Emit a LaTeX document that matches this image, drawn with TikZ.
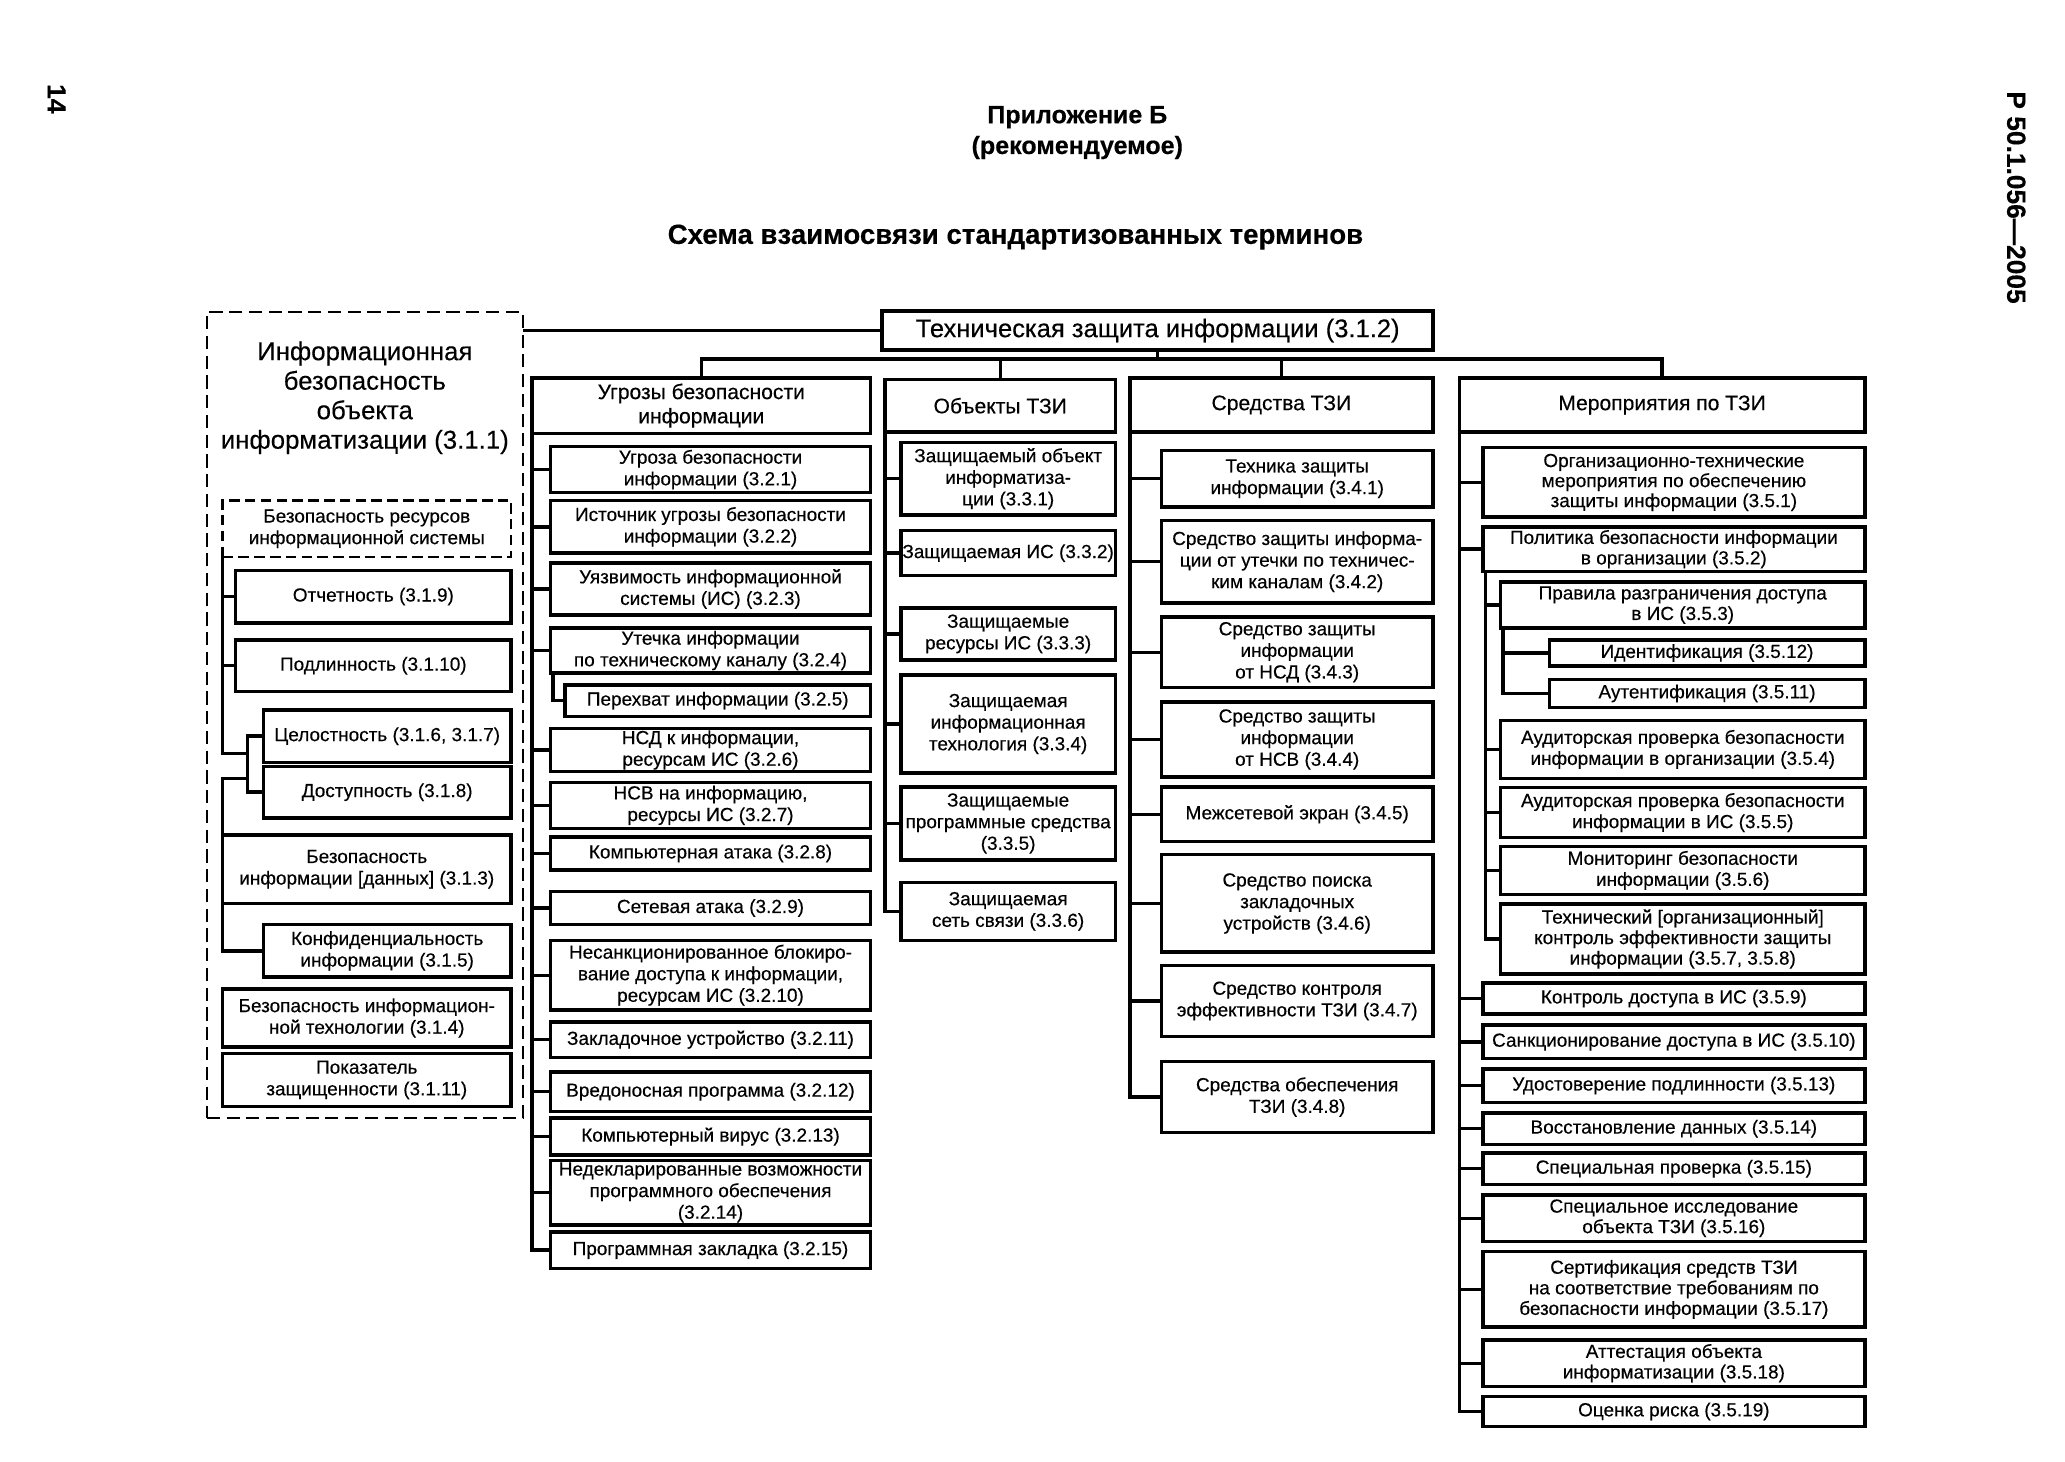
\documentclass[tikz,border=0pt]{standalone}
\usepackage{fontspec}
\setmainfont{Liberation Sans}[FakeBold=0.35]
\begin{document}
\begin{tikzpicture}[x=0.5pt,y=-0.5pt,
  bx/.style={draw,line width=1.3pt,inner xsep=0.5pt,inner ysep=0pt,outer sep=0pt,align=center,
    font=\fontsize{7.2}{8.2}\selectfont},
  hdr/.style={bx,font=\fontsize{8}{9.2}\selectfont},
  dbox/.style={bx,line width=0.9pt,dash pattern=on 5pt off 2.5pt},
  conn/.style={line width=1.3pt},
  ttl/.style={font=\bfseries\fontsize{9.5}{11}\selectfont}]
\newcommand{\mkbox}[7][]{%
  \pgfmathsetmacro\bxw{(#5-#3)*0.5}%
  \pgfmathsetmacro\bxh{(#6-#4)*0.5}%
  \node[bx,minimum width=\bxw pt,minimum height=\bxh pt,#1] (#2) at ({(#3+#5)/2},{(#4+#6)/2}) {#7};}
\useasboundingbox (0,0) rectangle (1568,1110);
% page headers
\node[font=\bfseries\fontsize{10}{12}\selectfont,rotate=-90] (pg) at (43,75) {14};
\node[font=\bfseries\fontsize{10}{12}\selectfont,rotate=-90] (std) at (1531,150) {Р 50.1.056—2005};
\node[ttl] (app) at (818,89) {Приложение Б};
\node[ttl] (rec) at (818,112) {(рекомендуемое)};
\node[font=\bfseries\fontsize{10.5}{12}\selectfont] (title) at (771,180) {Схема взаимосвязи стандартизованных терминов};
% left dashed block
\mkbox[dbox]{obi}{157}{237}{397}{849}{}
\node[align=center,font=\fontsize{9.8}{11.2}\selectfont] (obit) at (277,302)
  {Информационная\\безопасность\\объекта\\информатизации (3.1.1)};
\mkbox[dbox,dash pattern=on 4pt off 2pt]{ibs}{169}{380}{388}{423}{Безопасность ресурсов\\информационной системы}
\mkbox{otc}{179}{433}{388}{473}{Отчетность (3.1.9)}
\mkbox{pod}{179}{486}{388}{525}{Подлинность (3.1.10)}
\mkbox{cel}{200}{539}{388}{579}{Целостность (3.1.6, 3.1.7)}
\mkbox{dos}{200}{582}{388}{621}{Доступность (3.1.8)}
\mkbox{bin}{169}{634}{388}{686}{Безопасность\\информации [данных] (3.1.3)}
\mkbox{kon}{200}{702}{388}{742}{Конфиденциальность\\информации (3.1.5)}
\mkbox{bit}{169}{751}{388}{795}{Безопасность информацион-\\ной технологии (3.1.4)}
\mkbox{pok}{169}{800}{388}{840}{Показатель\\защищенности (3.1.11)}
\coordinate (j1) at (188,572);
\coordinate (j2) at (188,591);
\draw[conn] (ibs.south west) |- (j1);
\draw[conn] (ibs.south west |- otc.west) -- (otc.west);
\draw[conn] (ibs.south west |- pod.west) -- (pod.west);
\draw[conn] (cel.west) -- ++(-12,0) |- (dos.west);
\draw[conn] (j2) -| (bin.north west);
\draw[conn] (bin.south west) |- (kon.west);
% main box
\mkbox[line width=1.6pt,font=\fontsize{9.7}{11}\selectfont]{tzi}{670}{236}{1088}{266}{Техническая защита информации (3.1.2)}
\draw[conn] (tzi.west -| obi.east) -- (tzi.west);
% headers
\mkbox[hdr]{h1}{404}{287}{661}{329}{Угрозы безопасности\\информации}
\mkbox[hdr]{h2}{672}{288}{847}{328}{Объекты ТЗИ}
\mkbox[hdr]{h3}{858}{287}{1088}{328}{Средства ТЗИ}
\mkbox[hdr]{h4}{1108}{287}{1416}{328}{Мероприятия по ТЗИ}
\coordinate (busy) at (0,272.6);
\draw[conn] (tzi.south) -- (tzi.south |- busy);
\draw[conn] (h1.north) -- (h1.north |- busy) -- (h4.north |- busy) -- (h4.north);
\draw[conn] (h2.north) -- (h2.north |- busy);
\draw[conn] (h3.north) -- (h3.north |- busy);
% column 2
\mkbox{u1}{418}{339}{661}{374}{Угроза безопасности\\информации (3.2.1)}
\mkbox{u2}{418}{380}{661}{420}{Источник угрозы безопасности\\информации (3.2.2)}
\mkbox{u3}{418}{427.5}{661}{467}{Уязвимость информационной\\системы (ИС) (3.2.3)}
\mkbox{u4}{418}{477}{661}{511}{Утечка информации\\по техническому каналу (3.2.4)}
\mkbox{u5}{429}{520}{661}{544}{Перехват информации (3.2.5)}
\mkbox{u6}{418}{553}{661}{586}{НСД к информации,\\ресурсам ИС (3.2.6)}
\mkbox{u7}{418}{594}{661}{629}{НСВ на информацию,\\ресурсы ИС (3.2.7)}
\mkbox{u8}{418}{635.5}{661}{660.6}{Компьютерная атака (3.2.8)}
\mkbox{u9}{418}{677}{661}{702}{Сетевая атака (3.2.9)}
\mkbox{u10}{418}{714}{661}{767}{Несанкционированное блокиро-\\вание доступа к информации,\\ресурсам ИС (3.2.10)}
\mkbox{u11}{418}{776}{661}{803}{Закладочное устройство (3.2.11)}
\mkbox{u12}{418}{814}{661}{844}{Вредоносная программа (3.2.12)}
\mkbox{u13}{418}{849}{661}{877}{Компьютерный вирус (3.2.13)}
\mkbox{u14}{418}{881}{661}{930}{Недекларированные возможности\\программного обеспечения\\(3.2.14)}
\mkbox{u15}{418}{935.5}{661}{963}{Программная закладка (3.2.15)}
\draw[conn] (h1.south west) -- (h1.south west |- u15.west) -- (u15.west);
\foreach \n in {u1,u2,u3,u4,u6,u7,u8,u9,u10,u11,u12,u13,u14}
  \draw[conn] (h1.south west |- \n.west) -- (\n.west);
\draw[conn] ([xshift=1pt]u4.south west) |- (u5.west);
% column 3
\mkbox{o1}{684}{336}{847}{391}{Защищаемый объект\\информатиза-\\ции (3.3.1)}
\mkbox{o2}{684}{403}{847}{437}{Защищаемая ИС (3.3.2)}
\mkbox{o3}{684}{461.6}{847}{501}{Защищаемые\\ресурсы ИС (3.3.3)}
\mkbox{o4}{684}{512.5}{847}{587}{Защищаемая\\информационная\\технология (3.3.4)}
\mkbox{o5}{684}{597.6}{847}{653}{Защищаемые\\программные средства\\(3.3.5)}
\mkbox{o6}{684}{670}{847}{714}{Защищаемая\\сеть связи (3.3.6)}
\draw[conn] (h2.south west) -- (h2.south west |- o6.west) -- (o6.west);
\foreach \n in {o1,o2,o3,o4,o5}
  \draw[conn] (h2.south west |- \n.west) -- (\n.west);
% column 4
\mkbox{s1}{882}{342}{1088}{385}{Техника защиты\\информации (3.4.1)}
\mkbox{s2}{882}{395}{1088}{458}{Средство защиты информа-\\ции от утечки по техничес-\\ким каналам (3.4.2)}
\mkbox{s3}{882}{468.5}{1088}{522}{Средство защиты\\информации\\от НСД (3.4.3)}
\mkbox{s4}{882}{533}{1088}{590}{Средство защиты\\информации\\от НСВ (3.4.4)}
\mkbox{s5}{882}{597.5}{1088}{639}{Межсетевой экран (3.4.5)}
\mkbox{s6}{882}{649}{1088}{723}{Средство поиска\\закладочных\\устройств (3.4.6)}
\mkbox{s7}{882}{733}{1088}{787}{Средство контроля\\эффективности ТЗИ (3.4.7)}
\mkbox{s8}{882}{806}{1088}{860}{Средства обеспечения\\ТЗИ (3.4.8)}
\draw[conn] (h3.south west) -- (h3.south west |- s8.west) -- (s8.west);
\foreach \n in {s1,s2,s3,s4,s5,s6,s7}
  \draw[conn] (h3.south west |- \n.west) -- (\n.west);
% column 5
\mkbox[font=\fontsize{7.2}{7.6}\selectfont]{m1}{1126}{340}{1416}{392.6}{Организационно-технические\\мероприятия по обеспечению\\защиты информации (3.5.1)}
\mkbox[font=\fontsize{7.2}{7.8}\selectfont]{m2}{1126}{400}{1416}{434}{Политика безопасности информации\\в организации (3.5.2)}
\mkbox[font=\fontsize{7.2}{7.8}\selectfont]{m3}{1139.5}{442}{1416}{477}{Правила разграничения доступа\\в ИС (3.5.3)}
\mkbox{m12}{1176.4}{486}{1416}{505.7}{Идентификация (3.5.12)}
\mkbox{m11}{1176.4}{516}{1416}{537}{Аутентификация (3.5.11)}
\mkbox[font=\fontsize{7.2}{8}\selectfont]{m4}{1139.5}{547}{1416}{591}{Аудиторская проверка безопасности\\информации в организации (3.5.4)}
\mkbox[font=\fontsize{7.2}{8}\selectfont]{m5}{1139.5}{598}{1416}{636}{Аудиторская проверка безопасности\\информации в ИС (3.5.5)}
\mkbox[font=\fontsize{7.2}{8}\selectfont]{m6}{1139.5}{642.7}{1416}{679}{Мониторинг безопасности\\информации (3.5.6)}
\mkbox[font=\fontsize{7.2}{7.8}\selectfont]{m7}{1139.5}{686.5}{1416}{739.5}{Технический [организационный]\\контроль эффективности защиты\\информации (3.5.7, 3.5.8)}
\mkbox{m9}{1126}{746.4}{1416}{770}{Контроль доступа в ИС (3.5.9)}
\mkbox{m10}{1126}{778.4}{1416}{803.7}{Санкционирование доступа в ИС (3.5.10)}
\mkbox{m13}{1126}{811.6}{1416}{837}{Удостоверение подлинности (3.5.13)}
\mkbox{m14}{1126}{845}{1416}{869}{Восстановление данных (3.5.14)}
\mkbox{m15}{1126}{875.5}{1416}{899.4}{Специальная проверка (3.5.15)}
\mkbox[font=\fontsize{7.2}{7.8}\selectfont]{m16}{1126}{907.5}{1416}{942.5}{Специальное исследование\\объекта ТЗИ (3.5.16)}
\mkbox[font=\fontsize{7.2}{7.8}\selectfont]{m17}{1126}{950.4}{1416}{1007.7}{Сертификация средств ТЗИ\\на соответствие требованиям по\\безопасности информации (3.5.17)}
\mkbox[font=\fontsize{7.2}{7.8}\selectfont]{m18}{1126}{1017.6}{1416}{1052.6}{Аттестация объекта\\информатизации (3.5.18)}
\mkbox{m19}{1126}{1060.4}{1416}{1083}{Оценка риска (3.5.19)}
\draw[conn] (h4.south west) -- (h4.south west |- m19.west) -- (m19.west);
\foreach \n in {m1,m2,m9,m10,m13,m14,m15,m16,m17,m18}
  \draw[conn] (h4.south west |- \n.west) -- (\n.west);
\draw[conn] ([xshift=1pt]m2.south west) |- (m7.west);
\foreach \n in {m3,m4,m5,m6}
  \draw[conn] ([xshift=1pt]m2.south west |- \n.west) -- (\n.west);
\draw[conn] ([xshift=0.8pt]m3.south west) |- (m11.west);
\draw[conn] ([xshift=0.8pt]m3.south west |- m12.west) -- (m12.west);
\end{tikzpicture}
\end{document}
